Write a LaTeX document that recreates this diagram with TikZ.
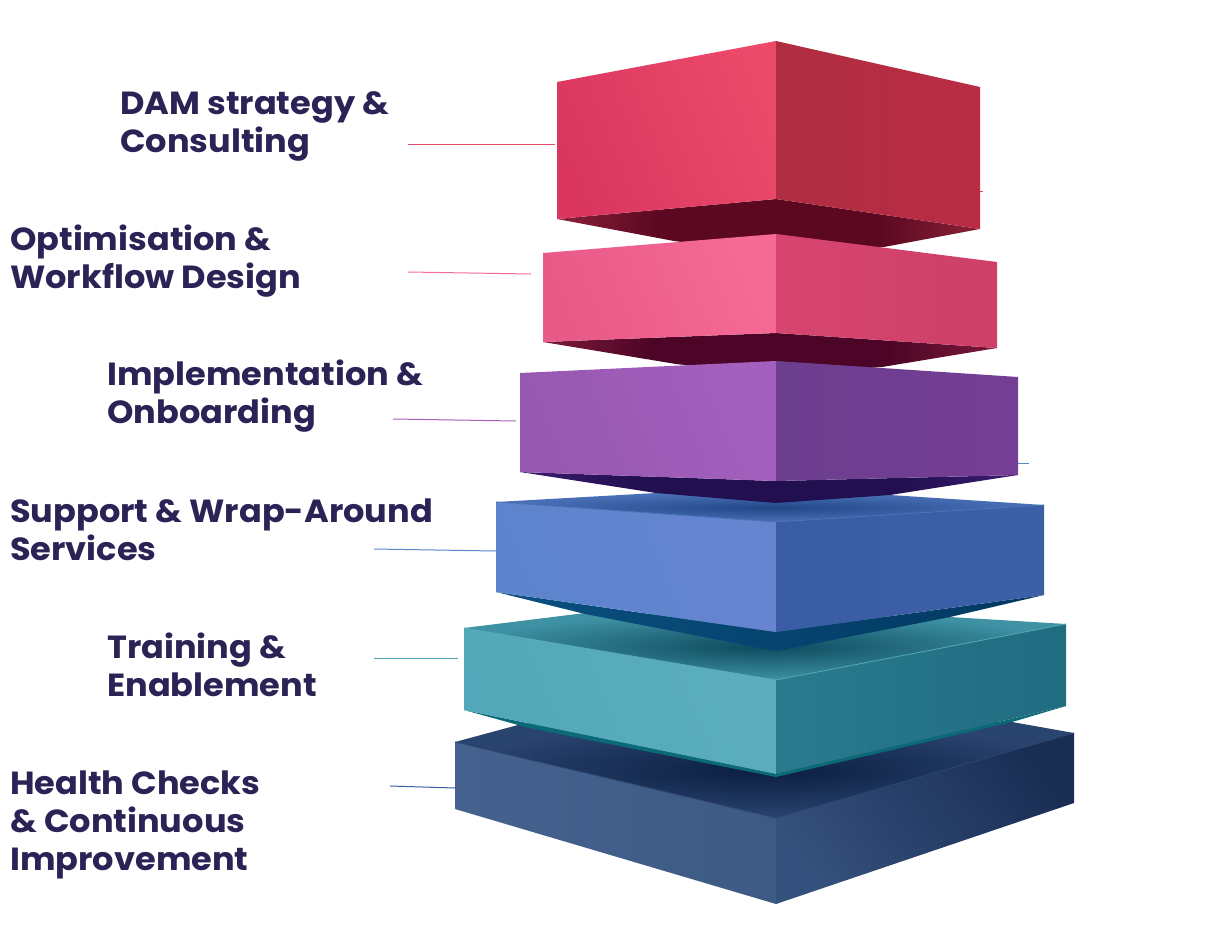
\documentclass[tikz,border=0pt]{standalone}
\usepackage{fontspec}
\setmainfont{Poppins}[FakeStretch=1.05]
\definecolor{ink}{HTML}{2A2355}
\definecolor{redL}{HTML}{DA3660}\definecolor{redLb}{HTML}{EC4A6A}
\definecolor{redR}{HTML}{AE2D40}\definecolor{redRb}{HTML}{BA2C46}
\definecolor{pnkL}{HTML}{E85A88}\definecolor{pnkLb}{HTML}{F66A96}
\definecolor{pnkR}{HTML}{CE4068}\definecolor{pnkRb}{HTML}{D64570}
\definecolor{purL}{HTML}{9658B0}\definecolor{purLb}{HTML}{A460BE}
\definecolor{purR}{HTML}{6C3E8E}\definecolor{purRb}{HTML}{743E94}
\definecolor{bluL}{HTML}{5C84CC}\definecolor{bluLb}{HTML}{6784D0}
\definecolor{bluR}{HTML}{3A5CA4}\definecolor{bluRb}{HTML}{3C60A8}
\definecolor{bluT}{HTML}{234888}\definecolor{bluTe}{HTML}{4A70B8}
\definecolor{bluU}{HTML}{023860}\definecolor{bluUe}{HTML}{0A5080}
\definecolor{teaL}{HTML}{52A8B8}\definecolor{teaLb}{HTML}{5CAEBC}
\definecolor{teaR}{HTML}{2A7A8E}\definecolor{teaRb}{HTML}{206C80}
\definecolor{teaT}{HTML}{0E4A5E}\definecolor{teaTe}{HTML}{3E92A4}
\definecolor{teaU}{HTML}{0A6A78}
\definecolor{navL}{HTML}{46618E}\definecolor{navLb}{HTML}{3C5A84}
\definecolor{navR}{HTML}{1A2E54}\definecolor{navRb}{HTML}{34507C}
\definecolor{navT}{HTML}{0A1E40}\definecolor{navTe}{HTML}{2A4470}
\pgfdeclarehorizontalshading{redUnder}{100bp}{rgb(0bp)=(0.54,0.13,0.22);rgb(25bp)=(0.54,0.13,0.22);rgb(37bp)=(0.36,0.03,0.13);rgb(63bp)=(0.36,0.03,0.13);rgb(75bp)=(0.54,0.13,0.22);rgb(100bp)=(0.54,0.13,0.22)}
\pgfdeclarehorizontalshading{pnkUnder}{100bp}{rgb(0bp)=(0.49,0.10,0.23);rgb(25bp)=(0.49,0.10,0.23);rgb(37bp)=(0.30,0.02,0.15);rgb(63bp)=(0.30,0.02,0.15);rgb(75bp)=(0.49,0.10,0.23);rgb(100bp)=(0.49,0.10,0.23)}
\pgfdeclarehorizontalshading{purUnder}{100bp}{rgb(0bp)=(0.24,0.11,0.44);rgb(25bp)=(0.24,0.11,0.44);rgb(37bp)=(0.13,0.06,0.31);rgb(63bp)=(0.13,0.06,0.31);rgb(75bp)=(0.24,0.11,0.44);rgb(100bp)=(0.24,0.11,0.44)}
\tikzset{
  lbl/.style={anchor=west,align=left,inner sep=0pt,text=ink,font=\fontsize{32}{38}\selectfont\bfseries},
  lead/.style={line width=1pt},
  rim/.style={line width=0.8pt},
  lit/.style={shading angle=112},
}
\begin{document}
\begin{tikzpicture}[x=1pt,y=-1pt]
\useasboundingbox (0,0) rectangle (1210,924);
% ---- navy block (bottom)
\shade[shading=radial,inner color=navT,outer color=navTe] (455,742)--(529,722)--(1012,722)--(1074,733)--(776,818)--cycle;
\shade[left color=navL,right color=navLb] (455,742)--(776,818)--(776,904)--(455,809)--cycle;
\shade[top color=navR,bottom color=navRb,shading angle=-55] (776,818)--(1074,733)--(1074,803)--(776,904)--cycle;
\draw[rim,color=navTe] (455,742)--(776,818)--(1074,733);
% ---- teal block
\fill[teaU] (464,710)--(529,728)--(776,777)--(1012,722)--(1066,706)--(776,774)--cycle;
\shade[shading=radial,inner color=teaT,outer color=teaTe] (464,628)--(585,613)--(950,617)--(1066,624)--(776,680)--cycle;
\shade[left color=teaL,right color=teaLb,lit] (464,628)--(776,680)--(776,774)--(464,710)--cycle;
\shade[left color=teaR,right color=teaRb] (776,680)--(1066,624)--(1066,706)--(776,774)--cycle;
\draw[rim,color=teaL] (464,628)--(776,680)--(1066,624);
% ---- blue block
\shade[left color=bluUe,right color=bluU] (496,592)--(585,614)--(776,651)--(950,617)--(1044,595)--(776,632)--cycle;
\shade[shading=radial,inner color=bluT,outer color=bluTe] (496,502)--(656,493)--(890,495)--(1044,505)--(776,522)--cycle;
\shade[left color=bluL,right color=bluLb,lit] (496,502)--(776,522)--(776,632)--(496,592)--cycle;
\shade[left color=bluR,right color=bluRb] (776,522)--(1044,505)--(1044,595)--(776,632)--cycle;
\draw[rim,color=bluTe] (496,502)--(776,522)--(1044,505);
% ---- undersides hidden partly by the block below
\shade[shading=purUnder] (520,472)--(656,493)--(776,503)--(890,495)--(1018,475)--(776,481)--cycle;
\shade[shading=pnkUnder] (543,342)--(676,364)--(776,375)--(882,367)--(997,348)--(776,333)--cycle;
\shade[shading=redUnder] (557,219)--(674,241)--(776,255)--(884,247)--(980,229)--(776,199)--cycle;
% ---- purple
\shade[left color=purL,right color=purLb,lit] (520,373)--(776,361)--(776,481)--(520,472)--cycle;
\shade[left color=purR,right color=purRb] (776,361)--(1018,377)--(1018,475)--(776,481)--cycle;
% ---- pink
\shade[left color=pnkL,right color=pnkLb,lit] (543,253)--(776,234)--(776,333)--(543,342)--cycle;
\shade[left color=pnkRb,right color=pnkR] (776,234)--(997,262)--(997,348)--(776,333)--cycle;
% ---- red
\shade[left color=redL,right color=redLb,lit] (557,82)--(776,41)--(776,199)--(557,219)--cycle;
\shade[left color=redR,right color=redRb] (776,41)--(980,87)--(980,229)--(776,199)--cycle;
% ---- labels
\node[lbl] (l1) at (120,126) {DAM strategy \&\\Consulting};
\node[lbl] (l2) at (10,261) {Optimisation \&\\Workflow Design};
\node[lbl] (l3) at (107,396) {Implementation \&\\Onboarding};
\node[lbl] (l4) at (10,530) {Support \& Wrap-Around\\Services};
\node[lbl] (l5) at (107,665) {Training \&\\Enablement};
\node[lbl] (l6) at (10,825) {Health Checks\\\& Continuous\\Improvement};
% ---- leaders
\coordinate (a1) at (408,144.5); \coordinate (b1) at (555,144.5);
\coordinate (a2) at (408,272); \coordinate (b2) at (531,274);
\coordinate (a3) at (393,419); \coordinate (b3) at (516,421);
\coordinate (a4) at (374,549); \coordinate (b4) at (496,551);
\coordinate (a5) at (374,658); \coordinate (b5) at (458,658);
\coordinate (a6) at (390,786); \coordinate (b6) at (455,788);
\coordinate (a7) at (980,191); \coordinate (b7) at (983,191);
\coordinate (a8) at (1018,463); \coordinate (b8) at (1029,463);
\draw[lead,color=redLb] (a1)--(b1);
\draw[lead,color=pnkLb] (a2)--(b2);
\draw[lead,color=purLb] (a3)--(b3);
\draw[lead,color=bluL] (a4)--(b4);
\draw[lead,color=teaL] (a5)--(b5);
\draw[lead,color=bluR] (a6)--(b6);
\draw[lead,color=redLb] (a7)--(b7);
\draw[lead,color=bluL] (a8)--(b8);
\end{tikzpicture}
\end{document}
